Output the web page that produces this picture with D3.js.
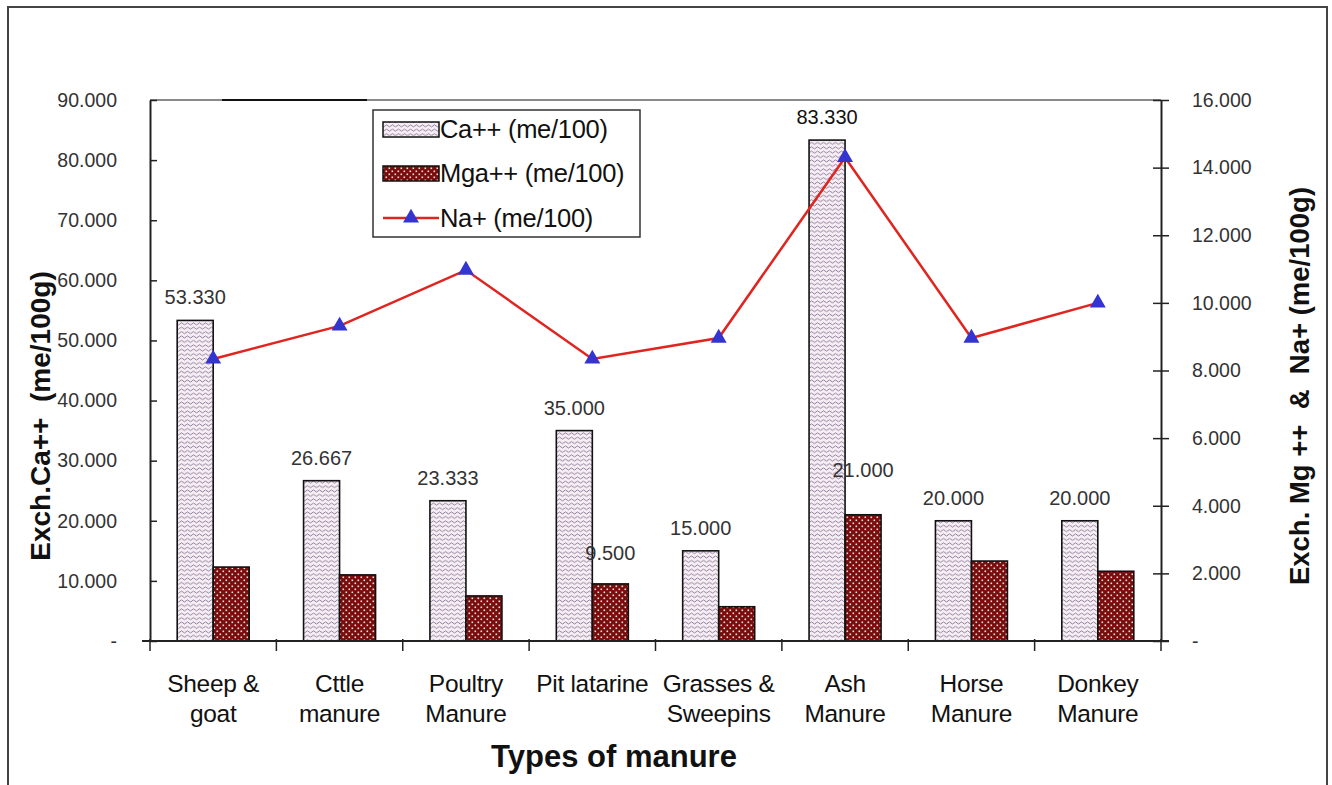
<!DOCTYPE html>
<html><head><meta charset="utf-8">
<script src="https://cdn.jsdelivr.net/npm/d3@7"></script>
<style>html,body{margin:0;padding:0;background:#fff;}svg{display:block;font-family:"Liberation Sans",Arial,sans-serif;}</style>
</head><body>
<script>
const categories = ["Sheep &\ngoat","Cttle\nmanure","Poultry\nManure","Pit latarine","Grasses &\nSweepins","Ash\nManure","Horse\nManure","Donkey\nManure"];
const caValues = [53.330, 26.667, 23.333, 35.000, 15.000, 83.330, 20.000, 20.000];
const mgValues = [12.3, 11.0, 7.5, 9.500, 5.7, 21.000, 13.3, 11.6];
const naValues = [8.34, 9.32, 10.97, 8.34, 8.96, 14.3, 8.96, 10.0];
const caLabels = ["53.330","26.667","23.333","35.000","15.000","83.330","20.000","20.000"];
const mgLabelIdx = [3, 5];
const mgLabels = ["9.500","21.000"];
const leftTicks = [0,10,20,30,40,50,60,70,80,90];
const rightTicks = [0,2,4,6,8,10,12,14,16];
const seriesNames = ["Ca++ (me/100)","Mga++ (me/100)","Na+ (me/100)"];

const W = 1332, H = 785;
const svg = d3.select("body").append("svg").attr("width", W).attr("height", H);
const defs = svg.append("defs");

// Ca pattern: wavy lines
const pCa = defs.append("pattern").attr("id","pCa").attr("patternUnits","userSpaceOnUse").attr("width",6).attr("height",4.4);
pCa.append("rect").attr("width",6).attr("height",4.4).attr("fill","#f6eef5");
pCa.append("path").attr("d","M0,2.6 Q1.5,0.6 3,2.6 T6,2.6").attr("fill","none").attr("stroke","#75607f").attr("stroke-width",0.8);
// Mg pattern: dark red with white dots
const pMg = defs.append("pattern").attr("id","pMg").attr("patternUnits","userSpaceOnUse").attr("width",6).attr("height",6);
pMg.append("rect").attr("width",6).attr("height",6).attr("fill","#7a0c0c");
pMg.append("rect").attr("x",0.5).attr("y",0.5).attr("width",1.6).attr("height",1.6).attr("fill","#f3dede");
pMg.append("rect").attr("x",3.5).attr("y",3.5).attr("width",1.6).attr("height",1.6).attr("fill","#f3dede");

// outer frame
svg.append("rect").attr("x",8).attr("y",7).attr("width",1319).attr("height",790)
  .attr("fill","none").attr("stroke","#444").attr("stroke-width",2);

const x0 = 150, x1 = 1161, yTop = 100, yBot = 641;
const x = d3.scaleBand().domain(d3.range(categories.length)).range([x0, x1]).padding(0);
const yL = d3.scaleLinear().domain([0, 90]).range([yBot, yTop]);
const yR = d3.scaleLinear().domain([0, 16]).range([yBot, yTop]);
const barW = 36;
const cx = i => x(i) + x.bandwidth()/2;

// top border of plot area
svg.append("line").attr("x1",x0).attr("x2",x1).attr("y1",yTop).attr("y2",yTop).attr("stroke","#8a8a8a").attr("stroke-width",2);
svg.append("line").attr("x1",222).attr("x2",367).attr("y1",yTop).attr("y2",yTop).attr("stroke","#111").attr("stroke-width",2);

// bars
svg.append("g").selectAll("rect").data(caValues).join("rect")
  .attr("x",(d,i)=>cx(i)-barW).attr("y",d=>yL(d)).attr("width",barW).attr("height",d=>yBot-yL(d))
  .attr("fill","url(#pCa)").attr("stroke","#111").attr("stroke-width",1.6);
svg.append("g").selectAll("rect").data(mgValues).join("rect")
  .attr("x",(d,i)=>cx(i)).attr("y",d=>yL(d)).attr("width",barW).attr("height",d=>yBot-yL(d))
  .attr("fill","url(#pMg)").attr("stroke","#111").attr("stroke-width",1.6);

// axes
const fmt = d => d === 0 ? "-" : d3.format(",.3f")(d);
const gL = svg.append("g").attr("transform",`translate(${x0},0)`)
  .call(d3.axisLeft(yL).tickValues(leftTicks).tickFormat(fmt).tickSizeInner(8).tickSizeOuter(0).tickPadding(25));
gL.selectAll(".tick line").attr("x2",7);
const gR = svg.append("g").attr("transform",`translate(${x1},0)`)
  .call(d3.axisRight(yR).tickValues(rightTicks).tickFormat(fmt).tickSizeInner(8).tickSizeOuter(0).tickPadding(23));
gR.selectAll(".tick line").attr("x2",8).attr("x1",-8);
[gL,gR].forEach(g=>{
  g.select(".domain").attr("stroke","#222").attr("stroke-width",2);
  g.selectAll(".tick line").attr("stroke","#222").attr("stroke-width",1.5);
  g.selectAll(".tick text").attr("font-size",19.5).attr("fill","#333").attr("font-family","'Liberation Sans',Arial,sans-serif");
});
// bottom axis
const gB = svg.append("g").attr("transform",`translate(0,${yBot})`);
gB.append("line").attr("x1",x0-8).attr("x2",x1+8).attr("stroke","#222").attr("stroke-width",2);
gB.selectAll("line.bt").data(d3.range(categories.length+1)).join("line").attr("class","bt")
  .attr("x1",i=> i<categories.length ? x(i) : x1).attr("x2",i=> i<categories.length ? x(i) : x1)
  .attr("y1",-2).attr("y2",10).attr("stroke","#222").attr("stroke-width",1.5);
const catText = gB.selectAll("text").data(categories).join("text")
  .attr("x",(d,i)=>cx(i)).attr("y",51).attr("text-anchor","middle").attr("font-size",24.5).attr("fill","#111")
  .attr("letter-spacing",-0.3);
catText.each(function(d){
  const t = d3.select(this);
  d.split("\n").forEach((s,k)=>{
    t.append("tspan").attr("x",t.attr("x")).attr("dy",k===0?0:30).text(s);
  });
});

// Na line
const line = d3.line().x((d,i)=>cx(i)).y(d=>yR(d));
svg.append("path").datum(naValues).attr("d",line).attr("fill","none").attr("stroke","#e0241f").attr("stroke-width",2.5);
const tri = d3.symbol().type(d3.symbolTriangle).size(110);
svg.append("g").selectAll("path").data(naValues).join("path")
  .attr("d",tri).attr("transform",(d,i)=>`translate(${cx(i)},${yR(d)})`).attr("fill","#3434d0");

// data labels
svg.append("g").selectAll("text").data(caValues).join("text")
  .attr("x",(d,i)=>cx(i)-barW/2).attr("y",d=>yL(d)-16).attr("text-anchor","middle")
  .attr("font-size",20).attr("fill",(d,i)=>i===5?"#111":"#333").text((d,i)=>caLabels[i]);
svg.append("g").selectAll("text").data(mgLabelIdx).join("text")
  .attr("x",i=>cx(i)+barW/2).attr("y",i=>yL(mgValues[i])-(i===5?38:24)).attr("text-anchor","middle")
  .attr("font-size",20).attr("fill","#333").text((d,k)=>mgLabels[k]);

// axis titles
svg.append("text").attr("transform","translate(50,416) rotate(-90)").attr("text-anchor","middle")
  .attr("font-size",28).attr("font-weight","bold").attr("fill","#111").attr("xml:space","preserve").text("Exch.Ca++  (me/100g)");
svg.append("text").attr("transform","translate(1309,386) rotate(-90)").attr("text-anchor","middle")
  .attr("font-size",27.5).attr("font-weight","bold").attr("fill","#111").attr("xml:space","preserve").text("Exch. Mg ++  &  Na+ (me/100g)");
svg.append("text").attr("x",614).attr("y",767).attr("text-anchor","middle")
  .attr("font-size",31).attr("font-weight","bold").attr("fill","#111").text("Types of manure");

// legend
const lg = svg.append("g").attr("transform","translate(373,110)");
lg.append("rect").attr("width",267).attr("height",127).attr("fill","#fff").attr("stroke","#333").attr("stroke-width",1.5);
const rowsY = [19, 63, 108];
lg.append("rect").attr("x",10).attr("y",rowsY[0]-7).attr("width",56).attr("height",15).attr("fill","url(#pCa)").attr("stroke","#111").attr("stroke-width",1.5);
lg.append("rect").attr("x",10).attr("y",rowsY[1]-7).attr("width",56).attr("height",15).attr("fill","url(#pMg)").attr("stroke","#111").attr("stroke-width",1.5);
lg.append("line").attr("x1",10).attr("x2",66).attr("y1",rowsY[2]).attr("y2",rowsY[2]).attr("stroke","#e0241f").attr("stroke-width",2.5);
lg.append("path").attr("d",tri).attr("transform",`translate(38,${rowsY[2]})`).attr("fill","#3434d0");
lg.selectAll("text").data(seriesNames).join("text")
  .attr("x",67).attr("y",(d,i)=>rowsY[i]+9).attr("font-size",25.5).attr("fill","#111").attr("letter-spacing",-0.3).text(d=>d);
</script>
</body></html>
